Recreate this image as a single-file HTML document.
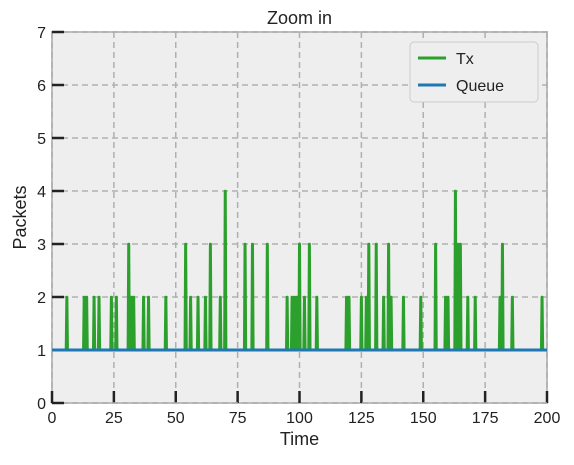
<!DOCTYPE html>
<html><head><meta charset="utf-8"><style>
body{margin:0;background:#fff;font-family:"Liberation Sans",sans-serif}
svg text{font-family:"Liberation Sans",sans-serif;fill:#222}
</style></head><body>
<svg id="chart" width="574" height="460" xmlns="http://www.w3.org/2000/svg"></svg>
<script>
const xTicks=[0,25,50,75,100,125,150,175,200];
const yTicks=[0,1,2,3,4,5,6,7];
const spikeTimes=[6,13,14,17,19,24,26,31,32,33,37,39,46,54,56,59,62,64,68,70,78,81,87,95,97,98,99,100,102,104,107,119,120,125,127,128,131,134,136,137,142,149,155,159,160,163,164,165,168,171,181,182,186,198];
const spikeHeights=[2,2,2,2,2,2,2,3,2,2,2,2,2,3,2,2,2,3,2,4,3,3,3,2,2,2,2,3,2,3,2,2,2,2,2,3,3,2,3,2,2,2,3,2,2,4,3,3,2,2,2,3,2,2];
const baseLevel=1;
const queueValues=[1,1];
const queueTimes=[0,200];

const L=52,R=547,T=32,B=403;
const sx=t=>L+(t-0)/(200-0)*(R-L);
const sy=v=>B-(v-0)/(7-0)*(B-T);
const svg=document.getElementById('chart');
const NS='http://www.w3.org/2000/svg';
function mk(tag,attrs,parent){const e=document.createElementNS(NS,tag);for(const k in attrs)e.setAttribute(k,attrs[k]);(parent||svg).appendChild(e);return e;}

const bg=mk('rect',{x:L,y:T,width:R-L,height:B-T,fill:'#eeeeee',stroke:'#bdbdbd','stroke-width':2});



xTicks.forEach(t=>{
  const g=mk('line',{x1:sx(t),x2:sx(t),y1:T,y2:B,stroke:'#b0b0b0','stroke-width':1.5,'stroke-dasharray':'6,4'});
  
  
  const tk=mk('line',{x1:sx(t),x2:sx(t),y1:B,y2:B-12,stroke:'#222','stroke-width':2.5});
  
  
  const lb=mk('text',{x:sx(t),y:B+20,'text-anchor':'middle','font-size':16});
  lb.textContent=t;
  
  
});
yTicks.forEach(v=>{
  const g=mk('line',{x1:L,x2:R,y1:sy(v),y2:sy(v),stroke:'#b0b0b0','stroke-width':1.5,'stroke-dasharray':'6,4'});
  
  
  const tk=mk('line',{x1:L,x2:L+12,y1:sy(v),y2:sy(v),stroke:'#222','stroke-width':2.5});
  
  
  const lb=mk('text',{x:L-6,y:sy(v)+6,'text-anchor':'end','font-size':16});
  lb.textContent=v;
  
  
});

// Tx series: narrow spikes
const hw=0.35;
let d='M'+sx(0)+','+sy(baseLevel);
spikeTimes.forEach((t,i)=>{
  const h=spikeHeights[i];
  d+='L'+sx(t-hw).toFixed(2)+','+sy(baseLevel).toFixed(2);
  d+='L'+sx(t-0.1).toFixed(2)+','+sy(h).toFixed(2);
  d+='L'+sx(t+0.1).toFixed(2)+','+sy(h).toFixed(2);
  d+='L'+sx(t+hw).toFixed(2)+','+sy(baseLevel).toFixed(2);
});
d+='L'+sx(200)+','+sy(baseLevel);
const tx=mk('path',{d:d,fill:'none',stroke:'#2ca02c','stroke-width':2.5,'stroke-linejoin':'round'});



let dq='';
queueTimes.forEach((t,i)=>{dq+=(i?'L':'M')+sx(t)+','+sy(queueValues[i]);});
const q=mk('path',{d:dq,fill:'none',stroke:'#1f77b4','stroke-width':3});



const title=mk('text',{x:(L+R)/2,y:24,'text-anchor':'middle','font-size':18});
title.textContent='Zoom in';


const xt=mk('text',{x:(L+R)/2,y:445,'text-anchor':'middle','font-size':18});
xt.textContent='Time';


const yt=mk('text',{x:26,y:(T+B)/2,'text-anchor':'middle','font-size':18,transform:'rotate(-90 26 '+((T+B)/2)+')'});
yt.textContent='Packets';



const lg=mk('g',{});


mk('rect',{x:410,y:42,width:128,height:60,rx:4,fill:'#eeeeee',stroke:'#cccccc','stroke-width':1},lg);
const e1=mk('line',{x1:418,x2:446,y1:58,y2:58,stroke:'#2ca02c','stroke-width':3},lg);


const t1=mk('text',{x:456,y:64,'font-size':16},lg);t1.textContent='Tx';


const e2=mk('line',{x1:418,x2:446,y1:85,y2:85,stroke:'#1f77b4','stroke-width':3},lg);


const t2=mk('text',{x:456,y:91,'font-size':16},lg);t2.textContent='Queue';


</script>
</body></html>
